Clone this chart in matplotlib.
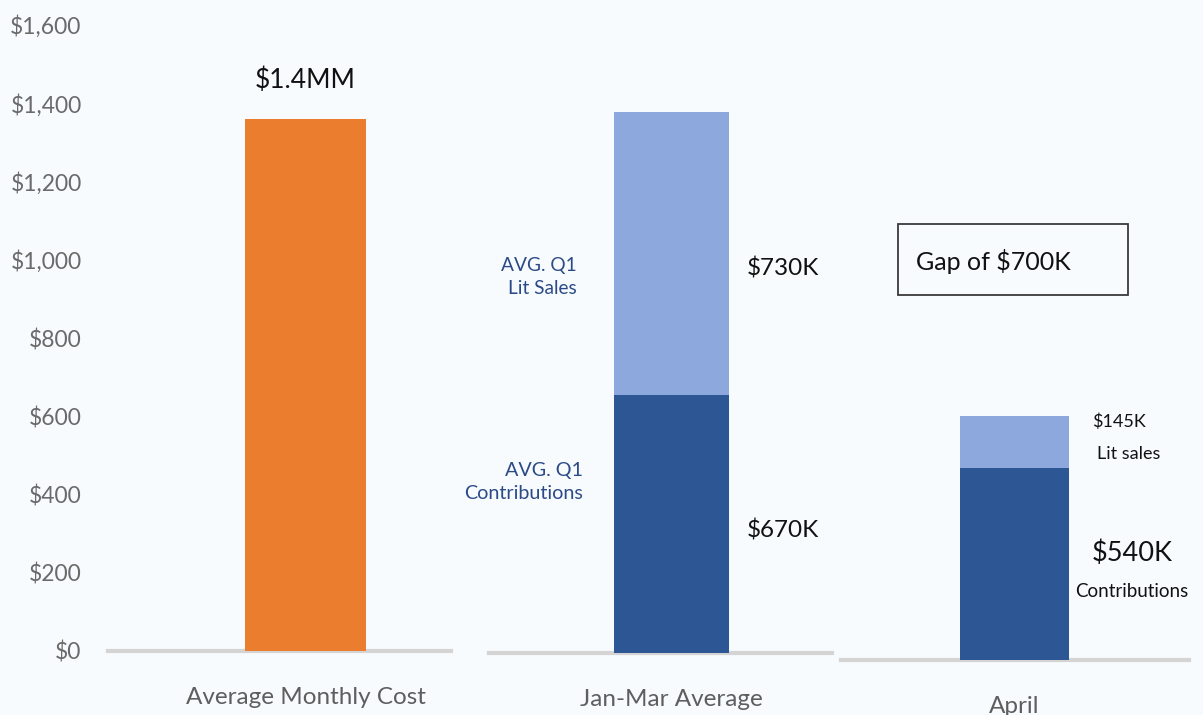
import matplotlib
matplotlib.use("Agg")
import matplotlib.pyplot as plt
from matplotlib.patches import Rectangle

# ---- data ----
categories = ["Average Monthly Cost", "Jan-Mar Average", "April"]
cost_values = [1360]
contrib_values = [660, 491]      # Jan-Mar, April
litsales_values = [724, 133]     # Jan-Mar, April
yticks = [0, 200, 400, 600, 800, 1000, 1200, 1400, 1600]
ytick_labels = ["$0", "$200", "$400", "$600", "$800", "$1,000", "$1,200", "$1,400", "$1,600"]

ORANGE = "#EB7D2E"
DARK = "#2D5694"
LIGHT = "#8DA8DC"
BG = "#F7FBFD"
GRID = "#D4D4D4"
TXTBLUE = "#2B4A87"
FONT = ["Lato", "DejaVu Sans"]

plt.rcParams["font.family"] = FONT

W, H = 1203, 715
fig = plt.figure(figsize=(W / 100, H / 100), dpi=100, facecolor=BG)

scale = 626.0 / 1600  # px per unit


def make_ax(left, right, base, offset, show_y=False):
    top = base - 1600 * scale
    ax = fig.add_axes([left / W, (H - base) / H, (right - left) / W, (base - top) / H])
    ax.set_facecolor(BG)
    ax.patch.set_alpha(0)
    ax.set_xlim(-offset, 1 - offset)
    ax.set_ylim(0, 1600)
    for s in ax.spines.values():
        s.set_visible(False)
    ax.axhline(0, color=GRID, lw=3, zorder=0, clip_on=False)
    if show_y:
        ax.set_yticks(yticks)
        ax.set_yticklabels(ytick_labels)
        ax.tick_params(axis="y", length=0, pad=19, labelsize=16.5, labelcolor="#6A6A6A")
    else:
        ax.set_yticks([])
    ax.tick_params(axis="x", length=0, pad=26, labelsize=17.5, labelcolor="#5E5E5E")
    return ax


# Panel 1
ax1 = make_ax(108, 451, 651, 0.576, show_y=True)
ax1.bar([0], cost_values, width=0.353, color=ORANGE, zorder=2)
ax1.set_xticks([0])
ax1.set_xticklabels([categories[0]])
ax1.text(0, 1460, "$1.4MM", ha="center", va="center", fontsize=19, color="#111111")

# Panel 2
ax2 = make_ax(489, 832, 653, 0.532)
ax2.bar([0], [contrib_values[0]], width=0.335, color=DARK, zorder=2)
ax2.bar([0], [litsales_values[0]], bottom=[contrib_values[0]], width=0.335, color=LIGHT, zorder=2)
ax2.set_xticks([0])
ax2.set_xticklabels([categories[1]])
ax2.text(0.220, 984, "$730K", ha="left", va="center", fontsize=17.5, color="#111111")
ax2.text(0.220, 314, "$670K", ha="left", va="center", fontsize=17.5, color="#111111")
ax2.text(-0.275, 961, "AVG. Q1\nLit Sales", ha="right", va="center", fontsize=13.8,
         color=TXTBLUE, linespacing=1.45)
ax2.text(-0.258, 437, "AVG. Q1\nContributions", ha="right", va="center", fontsize=14.2,
         color=TXTBLUE, linespacing=1.45)

# Panel 3
ax3 = make_ax(841, 1189, 660, 0.499)
ax3.bar([0], [contrib_values[1]], width=0.313, color=DARK, zorder=2)
ax3.bar([0], [litsales_values[1]], bottom=[contrib_values[1]], width=0.313, color=LIGHT, zorder=2)
ax3.set_xticks([0])
ax3.set_xticklabels([categories[2]])
ax3.add_patch(Rectangle((-0.335, 933), 0.661, 182, fill=False, edgecolor="#3A3A3A",
                        lw=1.3, clip_on=False))
ax3.text(-0.283, 1018, "Gap of $700K", ha="left", va="center", fontsize=18, color="#111111")
ax3.text(0.222, 609, "$145K", ha="left", va="center", fontsize=13, color="#111111")
ax3.text(0.237, 527, "Lit sales", ha="left", va="center", fontsize=13, color="#111111")
ax3.text(0.337, 274, "$540K", ha="center", va="center", fontsize=19.5, color="#111111")
ax3.text(0.337, 176, "Contributions", ha="center", va="center", fontsize=13.5, color="#111111")

fig.savefig("out.png", dpi=100, facecolor=BG)
